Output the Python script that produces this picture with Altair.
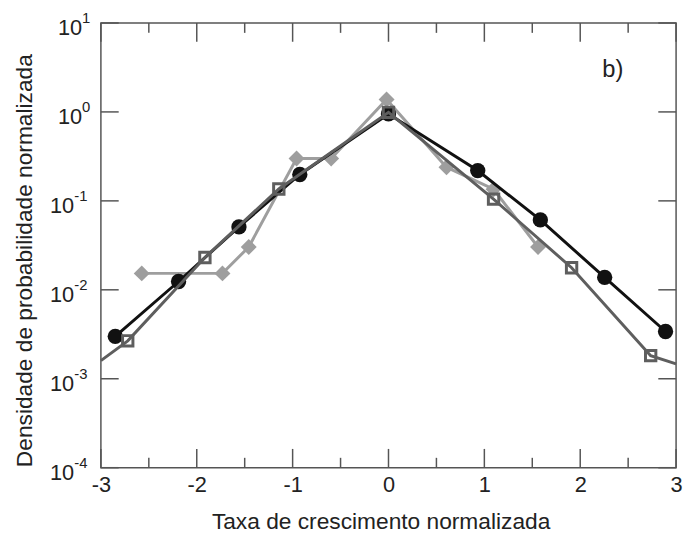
import altair as alt
import pandas as pd

# ---- data ----
circ_x = [-2.85, -2.19, -1.56, -0.925, 0.0, 0.931, 1.584, 2.255, 2.89]
circ_y = [0.0030, 0.0124, 0.051, 0.198, 0.95, 0.219, 0.061, 0.0138, 0.0034]

sq_x = [-2.72, -1.915, -1.144, 0.0, 1.096, 1.91, 2.735]
sq_y = [0.00267, 0.0231, 0.136, 0.99, 0.1045, 0.0177, 0.00182]
sq_end_x = [-3.0, 3.0]
sq_end_y = [0.0016, 0.00147]

dm_x = [-2.574, -1.732, -1.458, -0.959, -0.598, -0.02, 0.605, 1.096, 1.56]
dm_y = [0.0153, 0.0153, 0.0303, 0.30, 0.30, 1.38, 0.239, 0.135, 0.0303]

x_major = [-3, -2, -1, 0, 1, 2, 3]
x_minor = [-2.5, -1.5, -0.5, 0.5, 1.5, 2.5]
y_exp = [1, 0, -1, -2, -3, -4]
y_major = [10.0 ** e for e in y_exp]
panel_label = ["b)"]

FONT = "Liberation Sans"
TXT = "#222222"
FRAME = "#555555"
W, H = 582, 450

xs = alt.Scale(domain=[-3, 3], nice=False, zero=False)
ys = alt.Scale(type="log", domain=[1e-4, 10], nice=False)

xaxis = alt.Axis(
    title="Taxa de crescimento normalizada", values=x_major,
    labelExpr="datum.value < 0 ? '-' + abs(datum.value) + '\u00a0\u00a0' : '' + datum.value",
    ticks=False, domain=False, grid=False, labelFontSize=22, labelPadding=7,
    labelFont=FONT, labelColor=TXT, labelFlush=False,
    titleFont=FONT, titleFontSize=23, titleFontWeight="normal", titleColor=TXT,
    titleX=283, titleY=55, titleBaseline="middle", titleAlign="center")
yaxis = alt.Axis(
    title="Densidade de probabilidade normalizada", labels=False, ticks=False,
    domain=False, grid=False, titleFont=FONT, titleFontSize=23,
    titleFontWeight="normal", titleColor=TXT, titleX=-77, titleY=240,
    titleAngle=270, titleAlign="center", titleBaseline="middle")

X = alt.X("x:Q", scale=xs, axis=xaxis)
Y = alt.Y("y:Q", scale=ys, axis=yaxis)

df_c = pd.DataFrame({"x": circ_x, "y": circ_y})
df_s = pd.DataFrame({"x": sq_x, "y": sq_y})
df_sl = pd.DataFrame({"x": [sq_end_x[0]] + sq_x + [sq_end_x[1]],
                      "y": [sq_end_y[0]] + sq_y + [sq_end_y[1]]})
df_d = pd.DataFrame({"x": dm_x, "y": dm_y})
df_xmaj = pd.DataFrame({"x": x_major})
df_xmin = pd.DataFrame({"x": x_minor})
df_ymaj = pd.DataFrame({"y": y_major, "e": [str(e) for e in y_exp], "k": y_exp})

tick_kw = dict(color=FRAME, strokeWidth=1.5)
ticks = [
    alt.Chart(df_xmaj).mark_rule(**tick_kw).encode(x=X, y=alt.value(H), y2=alt.value(H - 19)),
    alt.Chart(df_xmin).mark_rule(**tick_kw).encode(x=X, y=alt.value(H), y2=alt.value(H - 10)),
    alt.Chart(df_xmaj).mark_rule(**tick_kw).encode(x=X, y=alt.value(0), y2=alt.value(19)),
    alt.Chart(df_xmin).mark_rule(**tick_kw).encode(x=X, y=alt.value(0), y2=alt.value(10)),
    alt.Chart(df_ymaj).mark_rule(**tick_kw).encode(y=Y, x=alt.value(0), x2=alt.value(18)),
    alt.Chart(df_ymaj).mark_rule(**tick_kw).encode(y=Y, x=alt.value(W - 18), x2=alt.value(W)),
]

C_BLK, C_SQ, C_DM = "#111111", "#5e5e5e", "#9e9e9e"

dm_line = alt.Chart(df_d).mark_line(color=C_DM, strokeWidth=3).encode(x=X, y=Y)
dm_pts = alt.Chart(df_d).mark_point(shape="diamond", filled=True, color=C_DM,
                                    size=260, opacity=1).encode(x=X, y=Y)
c_line = alt.Chart(df_c).mark_line(color=C_BLK, strokeWidth=3).encode(x=X, y=Y)
c_pts = alt.Chart(df_c).mark_point(shape="circle", filled=True, color=C_BLK,
                                   size=240, opacity=1).encode(x=X, y=Y)
s_line = alt.Chart(df_sl).mark_line(color=C_SQ, strokeWidth=3).encode(x=X, y=Y)
s_pts = alt.Chart(df_s).mark_point(shape="square", filled=False, color=C_SQ,
                                   size=110, strokeWidth=3, opacity=1).encode(x=X, y=Y)

lab_kw = dict(font=FONT, color=TXT, baseline="middle")
ylab = [
    alt.Chart(df_ymaj).transform_filter("datum.k >= 0").mark_text(
        align="right", fontSize=22, dy=5, **lab_kw).encode(
        y=Y, x=alt.value(-19), text=alt.value("10")),
    alt.Chart(df_ymaj).transform_filter("datum.k >= 0").mark_text(
        align="left", fontSize=15, dy=-5, **lab_kw).encode(
        y=Y, x=alt.value(-19), text="e:N"),
    alt.Chart(df_ymaj).transform_filter("datum.k < 0").mark_text(
        align="right", fontSize=22, dy=5, **lab_kw).encode(
        y=Y, x=alt.value(-27), text=alt.value("10")),
    alt.Chart(df_ymaj).transform_filter("datum.k < 0").mark_text(
        align="left", fontSize=15, dy=-5, **lab_kw).encode(
        y=Y, x=alt.value(-27), text="e:N"),
]

panel = alt.Chart(pd.DataFrame({"t": panel_label})).mark_text(
    font=FONT, fontSize=24, color=TXT, align="center", baseline="middle").encode(
    text="t:N", x=alt.value(518), y=alt.value(48))

chart = alt.layer(
    *ticks, dm_line, dm_pts, c_line, c_pts, s_line, s_pts, *ylab, panel
).properties(
    width=W, height=H,
    autosize=alt.AutoSizeParams(type="none"),
    padding={"left": 94, "top": 12, "right": 7, "bottom": 70},
    background="white",
).configure_view(stroke=FRAME, strokeWidth=1.5)

chart.save("out.html", embed_options={"renderer": "svg", "actions": False})
